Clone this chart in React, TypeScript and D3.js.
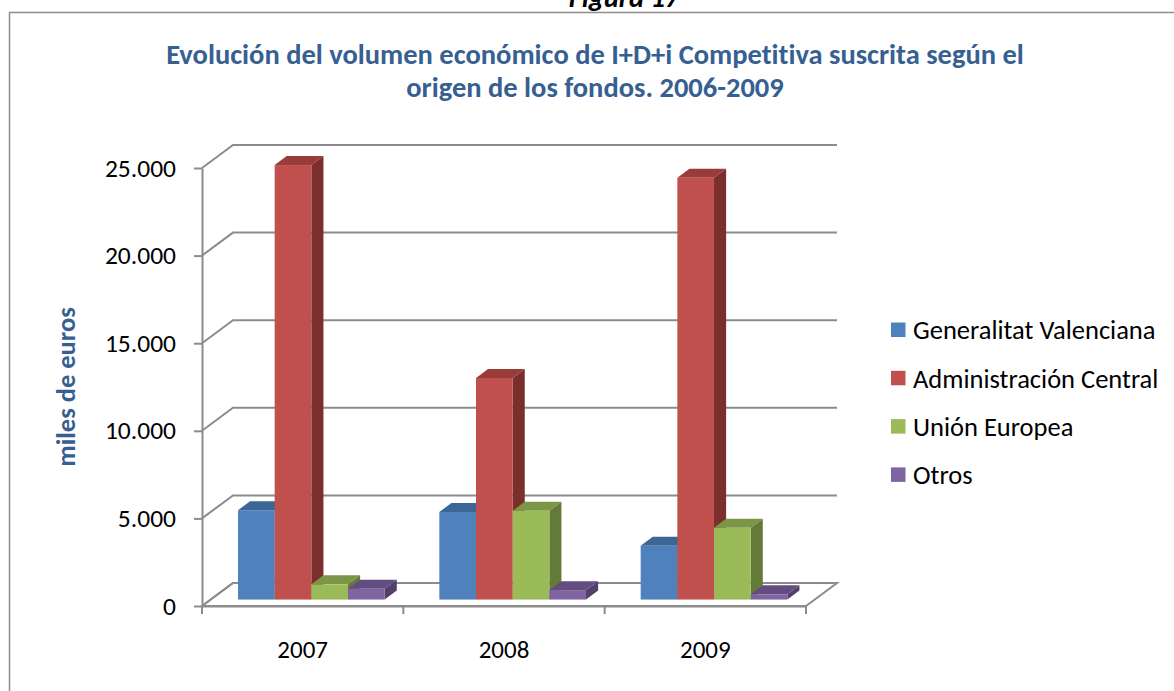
import { useEffect, useRef } from 'react';
import * as d3 from 'd3';

const years = ['2007', '2008', '2009'];
const seriesNames = ['Generalitat Valenciana', 'Administración Central', 'Unión Europea', 'Otros'];
const generalitat = [5100, 5000, 3070];
const administracion = [24800, 12650, 24080];
const unionEuropea = [870, 5070, 4100];
const otros = [620, 540, 300];
const yTicks = [0, 5000, 10000, 15000, 20000, 25000];

const frontColors = ['#4F81BD', '#C0504D', '#9BBB59', '#8064A2'];
const topColors = ['#3C6696', '#983B39', '#7B9646', '#634C80'];
const sideColors = ['#345783', '#7A2F2D', '#647A38', '#524068'];

const FONT = 'Carlito, Calibri, Lato, sans-serif';
const GRID = '#8c8c8c';

export default function App() {
  const svgRef = useRef(null);

  useEffect(() => {
    const svg = d3.select(svgRef.current);
    svg.selectAll('*').remove();

    const values = [generalitat, administracion, unionEuropea, otros];

    // front plane of the plot box
    const left = 202;
    const right = 806;
    // wall depth offset (oblique projection)
    const ddx = 31;
    const ddy = -23;
    // bars sit between these fractions of the depth
    const dFront = 0.28;
    const dBack = 0.67;

    const x0 = d3.scaleBand().domain(years).range([left, right]).paddingInner(0).paddingOuter(0);
    const x1 = d3.scaleBand().domain(seriesNames).range([0, x0.bandwidth()]).paddingInner(0).paddingOuter(0.745);
    const y = d3.scaleLinear().domain([0, 25000]).range([606, 168]);

    const locale = d3.formatLocale({ decimal: ',', thousands: '.', grouping: [3], currency: ['', '€'] });
    const fmt = locale.format(',');

    // outer chart border
    svg.append('rect')
      .attr('x', 9.5).attr('y', 12.5)
      .attr('width', 1200).attr('height', 720)
      .attr('fill', 'white').attr('stroke', '#8e8e8e').attr('stroke-width', 1.5);

    // "Figura 17" caption, cut by the top of the page
    svg.append('text')
      .attr('x', 624).attr('y', 7)
      .attr('text-anchor', 'middle')
      .attr('font-family', FONT).attr('font-size', 28.5)
      .attr('font-weight', 'bold').attr('font-style', 'italic')
      .text('Figura 17');

    // title
    const title = svg.append('text')
      .attr('text-anchor', 'middle')
      .attr('font-family', FONT).attr('font-size', 28.5)
      .attr('font-weight', 'bold').attr('fill', '#376092');
    title.append('tspan').attr('x', 595).attr('y', 64)
      .text('Evolución del volumen económico de I+D+i Competitiva suscrita según el');
    title.append('tspan').attr('x', 595).attr('y', 97)
      .text('origen de los fondos. 2006-2009');

    // floor
    const floorPts = [
      [left, y(0)], [right, y(0)], [right + ddx, y(0) + ddy], [left + ddx, y(0) + ddy],
    ];
    svg.append('polygon')
      .attr('points', floorPts.map((p) => p.join(',')).join(' '))
      .attr('fill', 'white').attr('stroke', GRID).attr('stroke-width', 2);

    // left wall diagonals + back wall gridlines
    const grid = svg.append('g').attr('stroke', GRID).attr('stroke-width', 2).attr('fill', 'none');
    yTicks.forEach((t) => {
      grid.append('path')
        .attr('d', `M${left},${y(t)}L${left + ddx},${y(t) + ddy}L${right + ddx},${y(t) + ddy}`);
    });

    // y axis
    const yAxis = d3.axisLeft(y).tickValues(yTicks).tickFormat(fmt)
      .tickSize(8).tickSizeOuter(0).tickPadding(18);
    const gy = svg.append('g').attr('transform', `translate(${left},0)`).call(yAxis);
    gy.selectAll('path, line').attr('stroke', GRID).attr('stroke-width', 2);
    gy.selectAll('text').attr('font-family', FONT).attr('font-size', 25.5).attr('fill', '#000');

    // x axis: labels centered, ticks at the category boundaries
    const xAxis = d3.axisBottom(x0).tickSize(0).tickPadding(34);
    const gx = svg.append('g').attr('transform', `translate(0,${y(0)})`).call(xAxis);
    gx.select('.domain').attr('stroke', GRID).attr('stroke-width', 2);
    gx.selectAll('text').attr('font-family', FONT).attr('font-size', 25).attr('fill', '#000');
    const bounds = years.map((yr) => x0(yr)).concat([x0(years[years.length - 1]) + x0.bandwidth()]);
    svg.append('g').selectAll('line').data(bounds).join('line')
      .attr('x1', (d) => d).attr('x2', (d) => d)
      .attr('y1', y(0)).attr('y2', y(0) + 8)
      .attr('stroke', GRID).attr('stroke-width', 2);

    // 3D bars
    const fx = ddx * dFront;
    const fy = ddy * dFront;
    const bx = ddx * (dBack - dFront);
    const by = ddy * (dBack - dFront);
    const bars = svg.append('g');
    years.forEach((yr, i) => {
      seriesNames.forEach((s, j) => {
        const v = values[j][i];
        const xl = x0(yr) + x1(s) + fx;
        const xr = xl + x1.bandwidth();
        const yb = y(0) + fy;
        const yt = y(v) + fy;
        const g = bars.append('g');
        g.append('polygon')
          .attr('points', `${xr},${yb} ${xr + bx},${yb + by} ${xr + bx},${yt + by} ${xr},${yt}`)
          .attr('fill', sideColors[j]);
        g.append('polygon')
          .attr('points', `${xl},${yt} ${xr},${yt} ${xr + bx},${yt + by} ${xl + bx},${yt + by}`)
          .attr('fill', topColors[j]);
        g.append('rect')
          .attr('x', xl).attr('y', yt)
          .attr('width', x1.bandwidth()).attr('height', yb - yt)
          .attr('fill', frontColors[j]);
      });
    });

    // axis title
    svg.append('text')
      .attr('transform', `translate(75,${(y(0) + y(25000)) / 2}) rotate(-90)`)
      .attr('text-anchor', 'middle')
      .attr('font-family', FONT).attr('font-size', 26.5)
      .attr('font-weight', 'bold').attr('fill', '#376092')
      .text('miles de euros');

    // legend
    const legend = svg.append('g').attr('transform', 'translate(891,330)');
    const rows = legend.selectAll('g').data(seriesNames).join('g')
      .attr('transform', (d, i) => `translate(0,${i * 48.3})`);
    rows.append('rect')
      .attr('x', 0).attr('y', -7.5).attr('width', 14.5).attr('height', 14.5)
      .attr('fill', (d, i) => frontColors[i]);
    rows.append('text')
      .attr('x', 22).attr('dy', '0.35em')
      .attr('font-family', FONT).attr('font-size', 26.5).attr('fill', '#000')
      .text((d) => d);

    // no "ti" ligatures, as in the original
    svg.selectAll('text').style('font-variant-ligatures', 'none');
  }, []);

  return (
    <svg
      ref={svgRef}
      width={1174}
      height={691}
      style={{ position: 'absolute', left: 0, top: 0, display: 'block' }}
    />
  );
}
